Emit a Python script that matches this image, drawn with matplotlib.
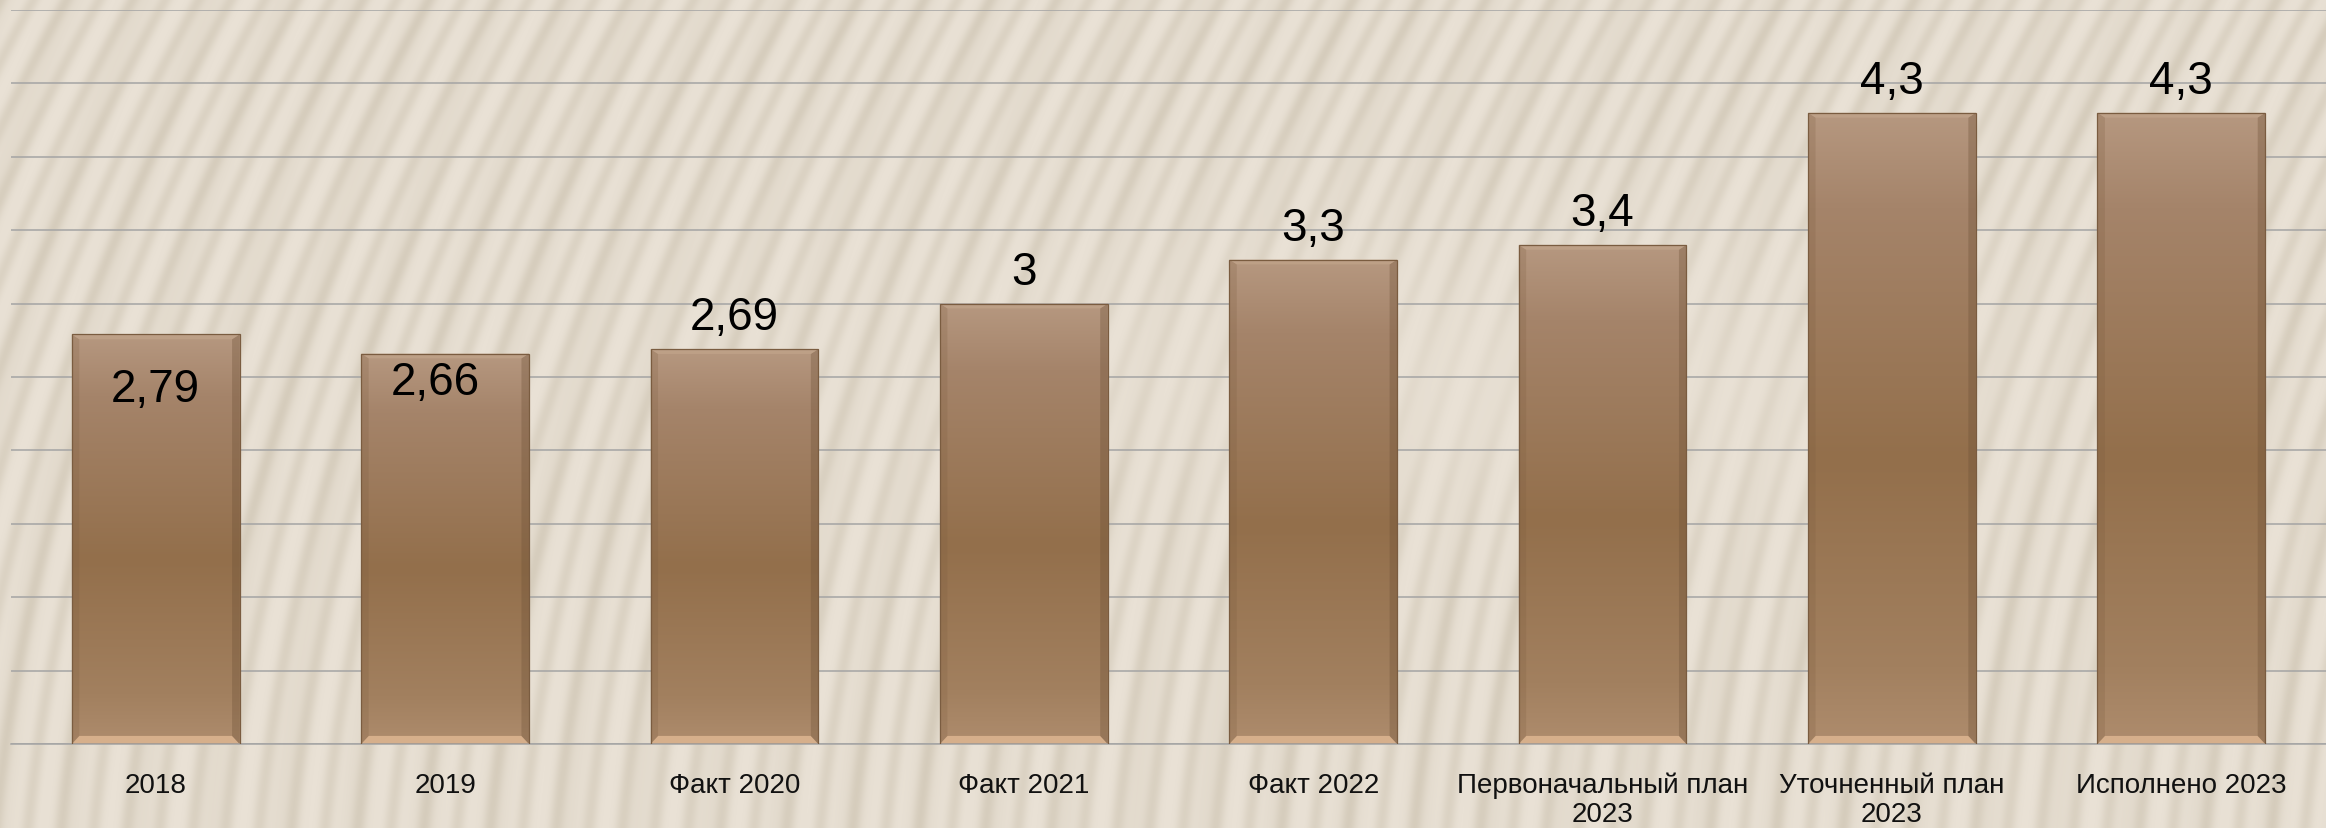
import numpy as np
import matplotlib
matplotlib.use("Agg")
import matplotlib.pyplot as plt
from matplotlib.colors import LinearSegmentedColormap
from matplotlib.patches import Polygon

# data
categories = ['2018', '2019', 'Факт 2020', 'Факт 2021', 'Факт 2022',
              'Первоначальный план\n2023', 'Уточненный план\n2023', 'Исполнено 2023']
values = [2.79, 2.66, 2.69, 3.0, 3.3, 3.4, 4.3, 4.3]
value_labels = ['2,79', '2,66', '2,69', '3', '3,3', '3,4', '4,3', '4,3']
# first two labels sit inside the bar
inside = [True, True, False, False, False, False, False, False]

W, H = 2326, 829
fig = plt.figure(figsize=(W / 100, H / 100), dpi=100)

# background: beige with soft diagonal stripes
bg = fig.add_axes([0, 0, 1, 1], zorder=0)
yy, xx = np.mgrid[0:H, 0:W].astype(float)
# slope of stripes gets steeper (more vertical) toward the bottom
g = 0.55 * yy - 0.45 * (yy ** 2) / (2 * H)
phase = (xx + g) / 33.0
stripe = (0.5 + 0.5 * np.cos(2 * np.pi * phase)) ** 2
stripe2 = (0.5 + 0.5 * np.cos(2 * np.pi * (xx + 0.8 * g) / 71.0)) ** 2
glow = np.exp(-(((xx - 1500) / 550) ** 2 + ((yy - 380) / 140) ** 2))
level = (0.42 * stripe + 0.18 * stripe2) * (1 - 0.6 * glow)
bg_cmap = LinearSegmentedColormap.from_list('bg', ['#E9E1D5', '#C9BFAC'])
bg.imshow(level, cmap=bg_cmap, vmin=0, vmax=1, aspect='auto', interpolation='bilinear')
bg.set_axis_off()

ax = fig.add_axes([11 / W, 1 - 745 / H, 1 - 11 / W, (745 - 11) / H], zorder=1)
ax.patch.set_alpha(0)

x = np.arange(len(categories))
bars = ax.bar(x, values, width=0.58, color='none', edgecolor='#7A5C40', linewidth=0.9, zorder=3)

bar_cmap = LinearSegmentedColormap.from_list('bar', [
    (0.0, '#AE8C6D'), (0.12, '#A2805F'), (0.45, '#936F4B'),
    (0.85, '#A5846A'), (1.0, '#B69880')])
grad = np.linspace(0, 1, 256).reshape(-1, 1)
for b in bars:
    x0, w, h = b.get_x(), b.get_width(), b.get_height()
    im = ax.imshow(grad, cmap=bar_cmap, aspect='auto', origin='lower',
                   extent=(x0, x0 + w, 0, h), zorder=2, interpolation='bilinear')
    im.set_clip_path(b)
    d, e = 0.026, 0.055
    # bevel edges
    ax.add_patch(Polygon([(x0, 0), (x0 + w, 0), (x0 + w - d, e), (x0 + d, e)],
                         closed=True, facecolor='#D6AF8B', edgecolor='none', zorder=2.5))
    ax.add_patch(Polygon([(x0, 0), (x0 + d, e), (x0 + d, h - e * 0.6), (x0, h)],
                         closed=True, facecolor='#7A5B3E', alpha=0.22, edgecolor='none', zorder=2.5))
    ax.add_patch(Polygon([(x0 + w, 0), (x0 + w - d, e), (x0 + w - d, h - e * 0.6), (x0 + w, h)],
                         closed=True, facecolor='#6A4E34', alpha=0.32, edgecolor='none', zorder=2.5))
    ax.add_patch(Polygon([(x0, h), (x0 + w, h), (x0 + w - d, h - e * 0.6), (x0 + d, h - e * 0.6)],
                         closed=True, facecolor='#C4A78D', alpha=0.6, edgecolor='none', zorder=2.5))

inside_drop = [0.454, 0.276]
inside_dx = [0.0, -0.035]
for i, (v, lab) in enumerate(zip(values, value_labels)):
    if inside[i]:
        ax.text(x[i] + inside_dx[i], v - inside_drop[i], lab, ha='center', va='baseline',
                fontsize=33, family=['Liberation Sans', 'DejaVu Sans'], color='black', zorder=4)
    else:
        ax.text(x[i], v + 0.136, lab, ha='center', va='baseline',
                fontsize=33, family=['Liberation Sans', 'DejaVu Sans'], color='black', zorder=4)

ax.set_xlim(-0.5, len(categories) - 0.5)
ax.set_ylim(0, 5)
ax.set_yticks(np.arange(0, 5.01, 0.5))
ax.set_yticklabels([])
ax.tick_params(axis='y', length=0)
ax.grid(axis='y', color='#A4A4A4', linewidth=1.1, zorder=1)
ax.set_axisbelow(True)
ax.set_xticks(x)
ax.set_xticklabels(categories, fontsize=20, family=['Liberation Sans', 'DejaVu Sans'],
                   linespacing=1.15, color='#111111')
ax.tick_params(axis='x', length=0, pad=20)
for s in ['top', 'left', 'right']:
    ax.spines[s].set_visible(False)
ax.spines['bottom'].set_color('#A4A4A4')
ax.spines['bottom'].set_linewidth(1.1)

fig.savefig('out.png', dpi=100)
